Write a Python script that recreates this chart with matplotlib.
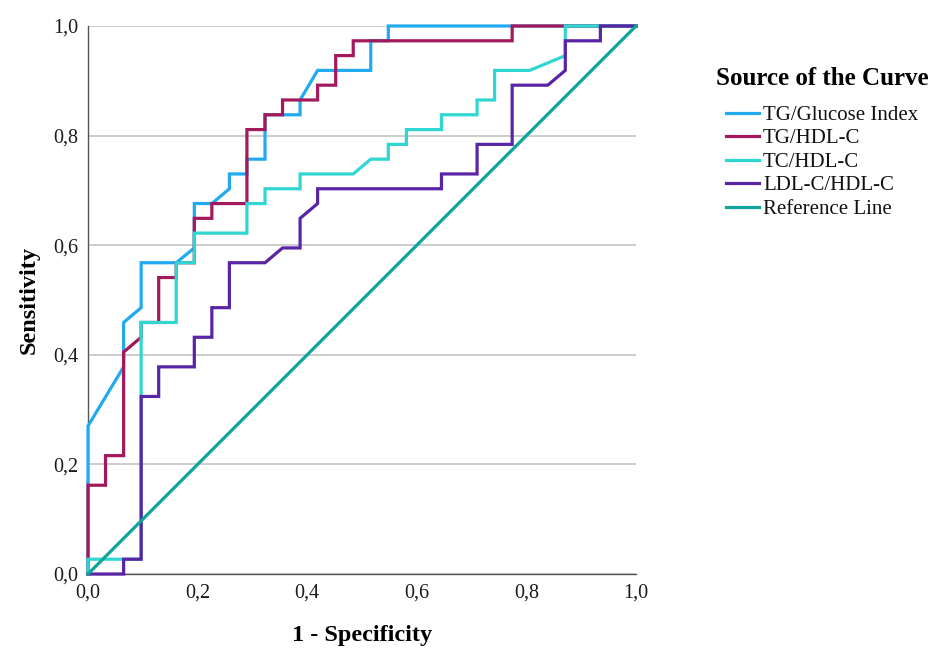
import matplotlib
matplotlib.use('Agg')
import matplotlib.pyplot as plt
from matplotlib.lines import Line2D

plt.rcParams['font.family'] = ['Liberation Serif', 'DejaVu Serif']

# ---- data ----
series_names = ['TG/Glucose Index', 'TG/HDL-C', 'TC/HDL-C', 'LDL-C/HDL-C', 'Reference Line']
series_colors = ['#22aaf0', '#a3195b', '#2fd6d2', '#5a24a6', '#0fa39a']

tg_glucose_fpr = [0, 0, 0.065, 0.065, 0.097, 0.097, 0.161, 0.194, 0.194, 0.226, 0.258, 0.258,
                  0.290, 0.290, 0.323, 0.323, 0.387, 0.387, 0.419, 0.516, 0.516, 0.548, 0.548, 1.0]
tg_glucose_tpr = [0, 0.270, 0.378, 0.459, 0.486, 0.568, 0.568, 0.595, 0.676, 0.676, 0.703, 0.730,
                  0.730, 0.757, 0.757, 0.838, 0.838, 0.865, 0.919, 0.919, 0.973, 0.973, 1.0, 1.0]

tg_hdl_fpr = [0, 0, 0.032, 0.032, 0.065, 0.065, 0.097, 0.097, 0.129, 0.129, 0.161, 0.161, 0.194,
              0.194, 0.226, 0.226, 0.290, 0.290, 0.323, 0.323, 0.355, 0.355, 0.419, 0.419, 0.452,
              0.452, 0.484, 0.484, 0.774, 0.774, 1.0]
tg_hdl_tpr = [0, 0.162, 0.162, 0.216, 0.216, 0.405, 0.432, 0.459, 0.459, 0.541, 0.541, 0.568, 0.568,
              0.649, 0.649, 0.676, 0.676, 0.811, 0.811, 0.838, 0.838, 0.865, 0.865, 0.892, 0.892,
              0.946, 0.946, 0.973, 0.973, 1.0, 1.0]

tc_hdl_fpr = [0, 0, 0.097, 0.097, 0.161, 0.161, 0.194, 0.194, 0.290, 0.290, 0.323, 0.323, 0.387,
              0.387, 0.484, 0.516, 0.548, 0.548, 0.581, 0.581, 0.645, 0.645, 0.710, 0.710, 0.742,
              0.742, 0.806, 0.871, 0.871, 1.0]
tc_hdl_tpr = [0, 0.027, 0.027, 0.459, 0.459, 0.568, 0.568, 0.622, 0.622, 0.676, 0.676, 0.703, 0.703,
              0.730, 0.730, 0.757, 0.757, 0.784, 0.784, 0.811, 0.811, 0.838, 0.838, 0.865, 0.865,
              0.919, 0.919, 0.946, 1.0, 1.0]

ldl_hdl_fpr = [0, 0.065, 0.065, 0.097, 0.097, 0.129, 0.129, 0.194, 0.194, 0.226, 0.226, 0.258, 0.258,
               0.323, 0.355, 0.387, 0.387, 0.419, 0.419, 0.645, 0.645, 0.710, 0.710, 0.774, 0.774,
               0.839, 0.871, 0.871, 0.935, 0.935, 1.0]
ldl_hdl_tpr = [0, 0, 0.027, 0.027, 0.324, 0.324, 0.378, 0.378, 0.432, 0.432, 0.486, 0.486, 0.568,
               0.568, 0.595, 0.595, 0.649, 0.676, 0.703, 0.703, 0.730, 0.730, 0.784, 0.784, 0.892,
               0.892, 0.919, 0.973, 0.973, 1.0, 1.0]

reference_x = [0, 1]
reference_y = [0, 1]

tick_values = [0.0, 0.2, 0.4, 0.6, 0.8, 1.0]
tick_labels = ['0,0', '0,2', '0,4', '0,6', '0,8', '1,0']

# ---- figure ----
W, H = 945, 661
fig = plt.figure(figsize=(W / 100, H / 100), dpi=100)
ax = fig.add_axes([88 / W, 87 / H, 548 / W, 548 / H])

curves = [(tg_glucose_fpr, tg_glucose_tpr), (tg_hdl_fpr, tg_hdl_tpr),
          (tc_hdl_fpr, tc_hdl_tpr), (ldl_hdl_fpr, ldl_hdl_tpr), (reference_x, reference_y)]
handles = []
for i, ((xs, ys), name, col) in enumerate(zip(curves, series_names, series_colors)):
    ln, = ax.plot(xs, ys, color=col, lw=2.3, solid_joinstyle='miter', clip_on=False,
                  zorder=3 + i, label=name)
    handles.append(ln)

ax.set_xlim(0, 1)
ax.set_ylim(0, 1)
ax.set_xticks(tick_values)
ax.set_xticklabels(tick_labels)
ax.set_yticks(tick_values)
ax.set_yticklabels(tick_labels)
ax.tick_params(axis='both', length=0, labelsize=14.5, colors='#1a1a1a')
ax.tick_params(axis='x', pad=7)
ax.tick_params(axis='y', pad=7)

ax.yaxis.grid(True, color='#c9c9c9', lw=1.3, zorder=0)
ax.set_axisbelow(True)
for s in ['top', 'right']:
    ax.spines[s].set_visible(False)
for s in ['left', 'bottom']:
    ax.spines[s].set_color('#555555')
    ax.spines[s].set_linewidth(1.0)
    ax.spines[s].set_zorder(2)

ax.set_xlabel('1 - Specificity', fontsize=17.5, fontweight='bold', labelpad=16)
ax.set_ylabel('Sensitivity', fontsize=17.5, fontweight='bold', labelpad=10)

leg = fig.legend(handles=handles, labels=series_names, loc='upper left',
                 bbox_to_anchor=(716 / W, 1 - 67 / H), frameon=False,
                 fontsize=15, handlelength=1.55, handletextpad=0.2,
                 labelspacing=0.19, borderpad=0, borderaxespad=0,
                 title='Source of the Curve',
                 title_fontproperties={'size': 18, 'weight': 'bold', 'family': 'Liberation Serif'})
leg._legend_box.sep = 11
for t in leg.get_texts():
    t.set_color('#111111')

fig.savefig('out.png', dpi=100)
